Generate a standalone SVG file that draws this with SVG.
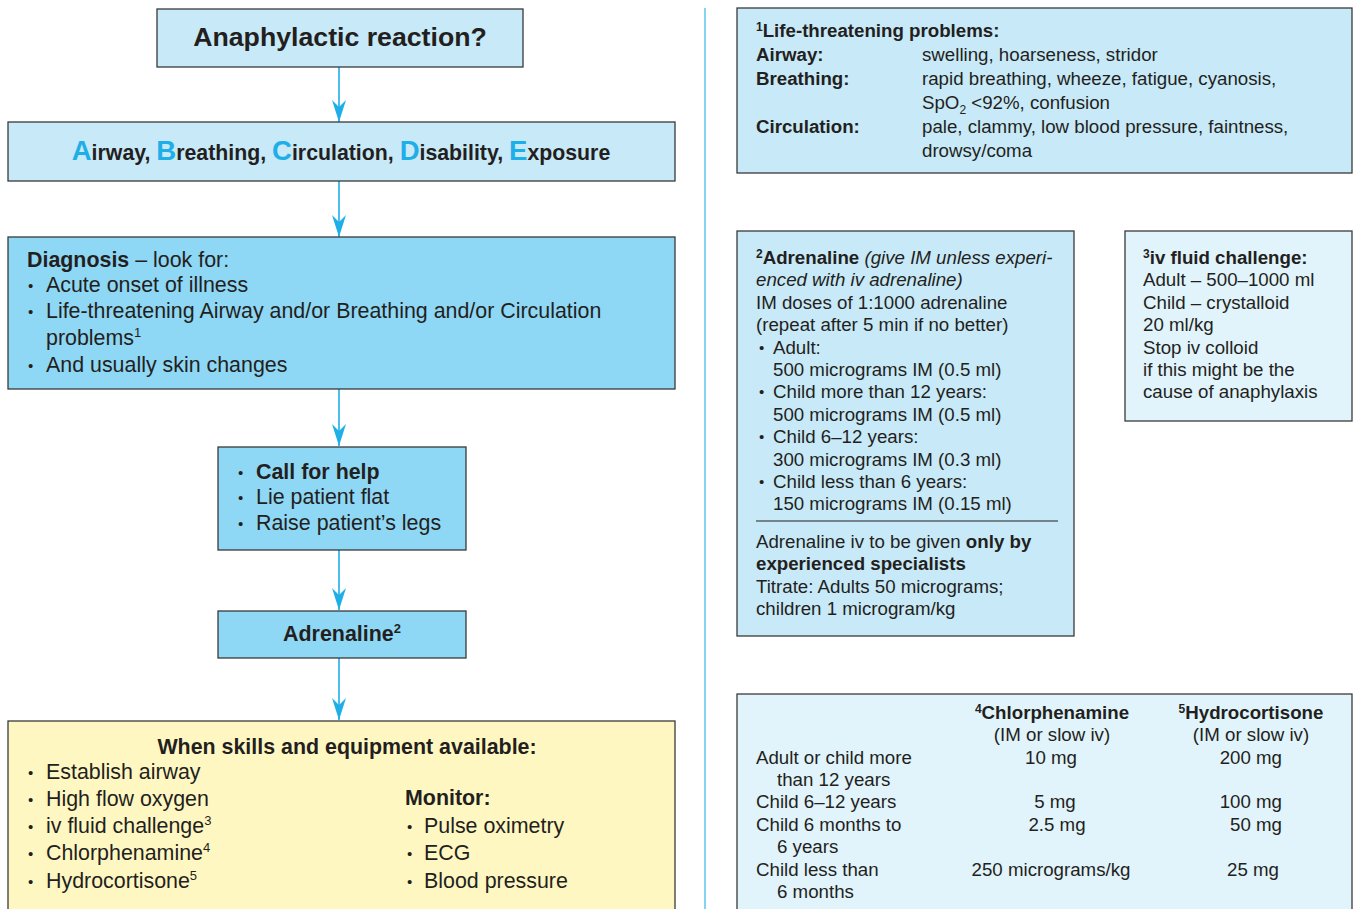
<svg xmlns="http://www.w3.org/2000/svg" width="1356" height="909" viewBox="0 0 1356 909">
<defs>
<marker id="arr" markerUnits="userSpaceOnUse" markerWidth="24" markerHeight="16" refX="22" refY="7" orient="auto">
<path d="M0,0 L22,7 L0,14 L7,7 z" fill="#1eaee8"/>
</marker>
</defs>
<style>
text{font-family:"Liberation Sans",Arial,sans-serif;fill:#231f20}
.box{stroke:#3a3a3a;stroke-width:1.3}
.lb{fill:#c8e9f8}
.mb{fill:#8ed7f5}
.yb{fill:#fff7c2}
.xb{fill:#e1f3fb}
.b{font-weight:bold}
.t20{font-size:21.4px}
.t17{font-size:18.7px}
.cap{fill:#1eaee8;font-size:27.5px;font-weight:bold}
.conn{stroke:#1eaee8;stroke-width:1.6;fill:none;marker-end:url(#arr)}
.sup{font-size:13px}
.sups{font-size:12px}
.dot{font-size:15px}
</style>
<rect width="1356" height="909" fill="#ffffff"/>

<g id="connectors">
<line class="conn" x1="339" y1="67" x2="339" y2="122"/>
<line class="conn" x1="339" y1="181" x2="339" y2="237"/>
<line class="conn" x1="339" y1="389" x2="339" y2="446"/>
<line class="conn" x1="339" y1="550" x2="339" y2="610"/>
<line class="conn" x1="339" y1="658" x2="339" y2="720"/>
</g>

<line id="divider" x1="705" y1="8" x2="705" y2="909" stroke="#5bc4ef" stroke-width="1.5"/>

<g id="n-anaphylactic">
<rect class="box lb" x="157" y="9" width="366" height="58"/>
<text class="b" x="340" y="46" font-size="26.7" text-anchor="middle">Anaphylactic reaction?</text>
</g>

<g id="n-abcde">
<rect class="box lb" x="8" y="122" width="667" height="59"/>
<text class="b" x="341" y="160" font-size="21.3" text-anchor="middle"><tspan class="cap">A</tspan>irway, <tspan class="cap">B</tspan>reathing, <tspan class="cap">C</tspan>irculation, <tspan class="cap">D</tspan>isability, <tspan class="cap">E</tspan>xposure</text>
</g>

<g id="n-diagnosis">
<rect class="box mb" x="8" y="237" width="667" height="152"/>
<text class="t20" x="27" y="267"><tspan class="b">Diagnosis</tspan> – look for:</text>
<text class="dot" x="28" y="291">•</text>
<text class="t20" x="46" y="292">Acute onset of illness</text>
<text class="dot" x="28" y="317">•</text>
<text class="t20" x="46" y="318">Life-threatening Airway and/or Breathing and/or Circulation</text>
<text class="t20" x="46" y="345">problems<tspan class="sup" dy="-8">1</tspan></text>
<text class="dot" x="28" y="371">•</text>
<text class="t20" x="46" y="372">And usually skin changes</text>
</g>

<g id="n-callhelp">
<rect class="box mb" x="218" y="447" width="248" height="103"/>
<text class="dot" x="238" y="478">•</text>
<text class="t20 b" x="256" y="479">Call for help</text>
<text class="dot" x="238" y="503">•</text>
<text class="t20" x="256" y="504">Lie patient flat</text>
<text class="dot" x="238" y="529">•</text>
<text class="t20" x="256" y="530">Raise patient’s legs</text>
</g>

<g id="n-adrenaline">
<rect class="box mb" x="218" y="611" width="248" height="47"/>
<text class="t20 b" x="342" y="641" text-anchor="middle">Adrenaline<tspan class="sup" dy="-8">2</tspan></text>
</g>

<g id="n-skills">
<rect class="box yb" x="8" y="721" width="667" height="200"/>
<text class="t20 b" x="347" y="754" text-anchor="middle">When skills and equipment available:</text>
<text class="dot" x="28" y="778">•</text>
<text class="t20" x="46" y="779">Establish airway</text>
<text class="dot" x="28" y="805">•</text>
<text class="t20" x="46" y="806">High flow oxygen</text>
<text class="dot" x="28" y="832">•</text>
<text class="t20" x="46" y="833">iv fluid challenge<tspan class="sup" dy="-8">3</tspan></text>
<text class="dot" x="28" y="859">•</text>
<text class="t20" x="46" y="860">Chlorphenamine<tspan class="sup" dy="-8">4</tspan></text>
<text class="dot" x="28" y="887">•</text>
<text class="t20" x="46" y="888">Hydrocortisone<tspan class="sup" dy="-8">5</tspan></text>
<text class="t20 b" x="405" y="805">Monitor:</text>
<text class="dot" x="407" y="832">•</text>
<text class="t20" x="424" y="833">Pulse oximetry</text>
<text class="dot" x="407" y="859">•</text>
<text class="t20" x="424" y="860">ECG</text>
<text class="dot" x="407" y="887">•</text>
<text class="t20" x="424" y="888">Blood pressure</text>
</g>

<g id="n-lifethreat">
<rect class="box lb" x="737" y="8" width="615" height="165"/>
<text class="t17 b" x="756" y="37"><tspan class="sups" dy="-6">1</tspan><tspan dy="6">Life-threatening problems:</tspan></text>
<text class="t17 b" x="756" y="61">Airway:</text>
<text class="t17" x="922" y="61">swelling, hoarseness, stridor</text>
<text class="t17 b" x="756" y="85">Breathing:</text>
<text class="t17" x="922" y="85">rapid breathing, wheeze, fatigue, cyanosis,</text>
<text class="t17" x="922" y="109">SpO<tspan class="sups" dy="5">2</tspan><tspan dy="-5"> &lt;92%, confusion</tspan></text>
<text class="t17 b" x="756" y="133">Circulation:</text>
<text class="t17" x="922" y="133">pale, clammy, low blood pressure, faintness,</text>
<text class="t17" x="922" y="157">drowsy/coma</text>
</g>

<g id="n-adrenaline-info">
<rect class="box lb" x="737" y="231" width="337" height="405"/>
<text class="t17" x="756" y="264"><tspan class="sups b" dy="-6">2</tspan><tspan class="b" dy="6">Adrenaline</tspan> <tspan font-style="italic">(give IM unless experi-</tspan></text>
<text class="t17" x="756" y="286" font-style="italic">enced with iv adrenaline)</text>
<text class="t17" x="756" y="309">IM doses of 1:1000 adrenaline</text>
<text class="t17" x="756" y="331">(repeat after 5 min if no better)</text>
<text class="dot" x="759" y="353">•</text>
<text class="t17" x="773" y="354">Adult:</text>
<text class="t17" x="773" y="376">500 micrograms IM (0.5 ml)</text>
<text class="dot" x="759" y="397">•</text>
<text class="t17" x="773" y="398">Child more than 12 years:</text>
<text class="t17" x="773" y="421">500 micrograms IM (0.5 ml)</text>
<text class="dot" x="759" y="442">•</text>
<text class="t17" x="773" y="443">Child 6–12 years:</text>
<text class="t17" x="773" y="466">300 micrograms IM (0.3 ml)</text>
<text class="dot" x="759" y="487">•</text>
<text class="t17" x="773" y="488">Child less than 6 years:</text>
<text class="t17" x="773" y="510">150 micrograms IM (0.15 ml)</text>
<line x1="756" y1="521" x2="1058" y2="521" stroke="#231f20" stroke-width="1.2"/>
<text class="t17" x="756" y="548">Adrenaline iv to be given <tspan class="b">only by</tspan></text>
<text class="t17 b" x="756" y="570">experienced specialists</text>
<text class="t17" x="756" y="593">Titrate: Adults 50 micrograms;</text>
<text class="t17" x="756" y="615">children 1 microgram/kg</text>
</g>

<g id="n-ivfluid">
<rect class="box xb" x="1125" y="231" width="227" height="190"/>
<text class="t17 b" x="1143" y="264"><tspan class="sups" dy="-6">3</tspan><tspan dy="6">iv fluid challenge:</tspan></text>
<text class="t17" x="1143" y="286">Adult – 500–1000 ml</text>
<text class="t17" x="1143" y="309">Child – crystalloid</text>
<text class="t17" x="1143" y="331">20 ml/kg</text>
<text class="t17" x="1143" y="354">Stop iv colloid</text>
<text class="t17" x="1143" y="376">if this might be the</text>
<text class="t17" x="1143" y="398">cause of anaphylaxis</text>
</g>

<g id="n-table">
<rect class="box xb" x="737" y="694" width="615" height="230"/>
<text class="t17 b" x="1052" y="719" text-anchor="middle"><tspan class="sups" dy="-6">4</tspan><tspan dy="6">Chlorphenamine</tspan></text>
<text class="t17" x="1052" y="741" text-anchor="middle">(IM or slow iv)</text>
<text class="t17 b" x="1251" y="719" text-anchor="middle"><tspan class="sups" dy="-6">5</tspan><tspan dy="6">Hydrocortisone</tspan></text>
<text class="t17" x="1251" y="741" text-anchor="middle">(IM or slow iv)</text>
<text class="t17" x="756" y="764">Adult or child more</text>
<text class="t17" x="777" y="786">than 12 years</text>
<text class="t17" x="756" y="808">Child 6–12 years</text>
<text class="t17" x="756" y="831">Child 6 months to</text>
<text class="t17" x="777" y="853">6 years</text>
<text class="t17" x="756" y="876">Child less than</text>
<text class="t17" x="777" y="898">6 months</text>
<text class="t17" x="1051" y="764" text-anchor="middle">10 mg</text>
<text class="t17" x="1055" y="808" text-anchor="middle">5 mg</text>
<text class="t17" x="1057" y="831" text-anchor="middle">2.5 mg</text>
<text class="t17" x="1051" y="876" text-anchor="middle">250 micrograms/kg</text>
<text class="t17" x="1282" y="764" text-anchor="end">200 mg</text>
<text class="t17" x="1282" y="808" text-anchor="end">100 mg</text>
<text class="t17" x="1282" y="831" text-anchor="end">50 mg</text>
<text class="t17" x="1279" y="876" text-anchor="end">25 mg</text>
</g>
</svg>
